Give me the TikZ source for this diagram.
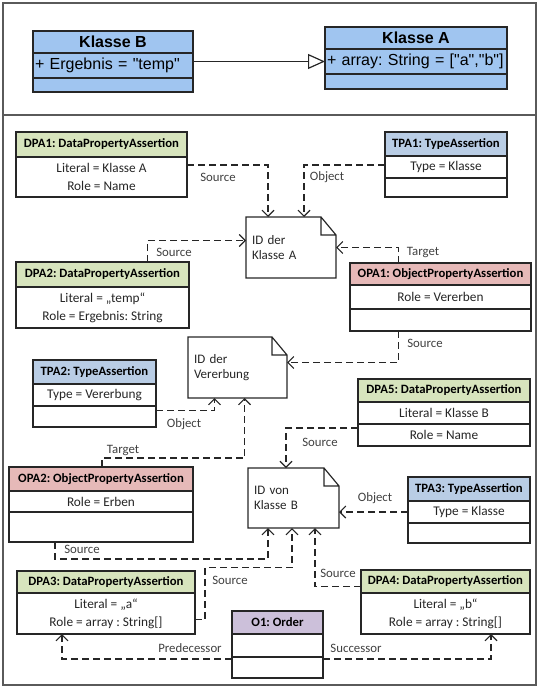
\documentclass[tikz,border=0pt]{standalone}
\usepackage{fontspec}
\setmainfont{Carlito}
\newfontfamily\arialfont{Liberation Sans}
\usepackage{xcolor}
\usetikzlibrary{arrows.meta, positioning}

\definecolor{dpagreen}{RGB}{215,228,189}
\definecolor{tpablue}{RGB}{185,205,229}
\definecolor{opared}{RGB}{230,185,184}
\definecolor{ordlila}{RGB}{204,192,218}
\definecolor{umlblue}{RGB}{160,197,240}
\definecolor{rahmen}{RGB}{90,90,90}
\definecolor{linie}{RGB}{38,38,38}
\definecolor{schrift}{RGB}{64,64,64}

\begin{document}
\frenchspacing
\begin{tikzpicture}[x=1pt, y=-1pt,
    cmp/.style={draw=linie, line width=1.2pt, fill=white, inner sep=0pt, outer sep=0pt, align=center, text=black!85, font=\fontsize{13.3}{18}\selectfont},
    hdr/.style={cmp, fill=#1, text=black, font=\fontsize{12.7}{14}\selectfont\bfseries},
    uml/.style={draw=linie, line width=1.2pt, fill=umlblue, inner sep=0pt, outer sep=0pt, font=\arialfont\fontsize{16}{18}\selectfont},
    note/.style={inner xsep=6pt, inner ysep=0pt, outer sep=0pt, align=left, text=black!85, font=\fontsize{13}{15.5}\selectfont},
    link/.style={draw=linie, line width=1.1pt, dash pattern=on 7pt off 4pt, -{Straight Barb[length=6pt,width=12pt]}},
    gen/.style={draw=linie, line width=1.2pt, -{Triangle[open,length=17pt,width=15pt]}},
    lbl/.style={text=schrift, inner sep=1pt, font=\fontsize{12.8}{14}\selectfont},
]
    \useasboundingbox (0,0) rectangle (539,687);
    \draw[rahmen, line width=1.5pt] (3,3) rectangle (536,685);
    \draw[rahmen, line width=1.5pt] (3,115) -- (536,115);

    % UML-Klassen oben
    \node[uml, font=\arialfont\fontsize{16}{18}\selectfont\bfseries, minimum width=160pt, minimum height=22pt, anchor=north west] (kb) at (33,31) {Klasse B};
    \node[uml, minimum width=160pt, minimum height=25pt, inner xsep=2pt, text width=156pt, align=left, below=0pt of kb] (kbattr) {+ Ergebnis = "temp"};
    \node[uml, minimum width=160pt, minimum height=14pt, below=0pt of kbattr] (kbleer) {};

    \node[uml, font=\arialfont\fontsize{16}{18}\selectfont\bfseries, minimum width=182pt, minimum height=22pt, anchor=north west] (ka) at (325,27) {Klasse A};
    \node[uml, minimum width=182pt, minimum height=25pt, inner xsep=2pt, text width=178pt, align=left, below=0pt of ka] (kaattr) {+ array: String = ["a","b"]};
    \node[uml, minimum width=182pt, minimum height=15pt, below=0pt of kaattr] (kaleer) {};

    \draw[gen] (kbattr.east |- kaattr.west) -- (kaattr.west);

    % Assertions
    \node[hdr=dpagreen, minimum width=171pt, minimum height=25pt, anchor=north west] (dpa1) at (16,132) {DPA1: DataPropertyAssertion};
    \node[cmp, minimum width=171pt, minimum height=40pt, below=0pt of dpa1] (dpa1b) {Literal = Klasse A\\Role = Name};

    \node[hdr=tpablue, minimum width=122pt, minimum height=24pt, anchor=north west] (tpa1) at (385,132) {TPA1: TypeAssertion};
    \node[cmp, minimum width=122pt, minimum height=22pt, below=0pt of tpa1] (tpa1b) {Type = Klasse};
    \node[cmp, minimum width=122pt, minimum height=19pt, below=0pt of tpa1b] (tpa1c) {};

    \node[hdr=dpagreen, minimum width=173pt, minimum height=25pt, anchor=north west] (dpa2) at (16,262) {DPA2: DataPropertyAssertion};
    \node[cmp, minimum width=173pt, minimum height=41pt, below=0pt of dpa2] (dpa2b) {Literal = „temp“\\Role = Ergebnis: String};

    \node[hdr=opared, minimum width=181pt, minimum height=22pt, anchor=north west] (opa1) at (350,263) {OPA1: ObjectPropertyAssertion};
    \node[cmp, minimum width=181pt, minimum height=24pt, below=0pt of opa1] (opa1b) {Role = Vererben};
    \node[cmp, minimum width=181pt, minimum height=22pt, below=0pt of opa1b] (opa1c) {};

    \node[hdr=tpablue, minimum width=123pt, minimum height=24pt, anchor=north west] (tpa2) at (33,360) {TPA2: TypeAssertion};
    \node[cmp, minimum width=123pt, minimum height=22pt, below=0pt of tpa2] (tpa2b) {Type = Vererbung};
    \node[cmp, minimum width=123pt, minimum height=21pt, below=0pt of tpa2b] (tpa2c) {};

    \node[hdr=dpagreen, minimum width=172pt, minimum height=23pt, anchor=north west] (dpa5) at (358,379) {DPA5: DataPropertyAssertion};
    \node[cmp, minimum width=172pt, minimum height=22pt, below=0pt of dpa5] (dpa5b) {Literal = Klasse B};
    \node[cmp, minimum width=172pt, minimum height=22pt, below=0pt of dpa5b] (dpa5c) {Role = Name};

    \node[hdr=opared, minimum width=184pt, minimum height=24pt, anchor=north west] (opa2) at (9,467) {OPA2: ObjectPropertyAssertion};
    \node[cmp, minimum width=184pt, minimum height=21pt, below=0pt of opa2] (opa2b) {Role = Erben};
    \node[cmp, minimum width=184pt, minimum height=30pt, below=0pt of opa2b] (opa2c) {};

    \node[hdr=tpablue, minimum width=122pt, minimum height=24pt, anchor=north west] (tpa3) at (408,477) {TPA3: TypeAssertion};
    \node[cmp, minimum width=122pt, minimum height=22pt, below=0pt of tpa3] (tpa3b) {Type = Klasse};
    \node[cmp, minimum width=122pt, minimum height=20pt, below=0pt of tpa3b] (tpa3c) {};

    \node[hdr=dpagreen, minimum width=178pt, minimum height=22pt, anchor=north west] (dpa3) at (17,571) {DPA3: DataPropertyAssertion};
    \node[cmp, minimum width=178pt, minimum height=41pt, below=0pt of dpa3] (dpa3b) {Literal = „a“\\Role = array : String[]};

    \node[hdr=dpagreen, minimum width=169pt, minimum height=23pt, anchor=north west] (dpa4) at (361,570) {DPA4: DataPropertyAssertion};
    \node[cmp, minimum width=169pt, minimum height=41pt, below=0pt of dpa4] (dpa4b) {Literal = „b“\\Role = array : String[]};

    \node[hdr=ordlila, minimum width=91pt, minimum height=23pt, anchor=north west] (o1) at (232,611) {O1: Order};
    \node[cmp, minimum width=91pt, minimum height=23pt, below=0pt of o1] (o1b) {};
    \node[cmp, minimum width=91pt, minimum height=21pt, below=0pt of o1b] (o1c) {};

    % Individuen
    \node[note, text width=78pt, minimum height=61pt, anchor=north west] (ida) at (246,217) {ID der\\Klasse A};
    \node[note, text width=87pt, minimum height=61pt, anchor=north west] (idv) at (188,337) {ID der\\Vererbung};
    \node[note, text width=79pt, minimum height=60pt, anchor=north west] (idb) at (248,468) {ID von\\Klasse B};
    \foreach \n in {ida,idv,idb}
        \draw[linie, line width=1.2pt] (\n.north west) -- ([xshift=-15pt]\n.north east) -- ([yshift=-18pt]\n.north east) -- (\n.south east) -- (\n.south west) -- cycle
            ([xshift=-15pt]\n.north east) |- ([yshift=-18pt]\n.north east);

    % Verbindungen
    \draw[link] ([yshift=12pt]dpa1b.east) -| ([xshift=22pt]ida.north west);
    \draw[link] ([yshift=2pt]tpa1b.west) -| ([xshift=58pt]ida.north west);
    \draw[link] ([xshift=45pt]dpa2.north) |- ([yshift=7pt]ida.west);
    \draw[link] ([xshift=-42pt]opa1.north) |- (ida.east);
    \draw[link] ([xshift=-42pt]opa1c.south) |- ([yshift=5pt]idv.east);
    \draw[link] ([yshift=6pt]tpa2c.east) -| ([xshift=-23pt]idv.south);
    \draw[link] ([xshift=1pt]opa2.north) -- ++(0,-9) -| ([xshift=7pt]idv.south);
    \draw[link] ([yshift=7pt]dpa5c.west) -| ([xshift=38pt]idb.north west);
    \draw[link] (tpa3b.west) -- (tpa3b.west -| idb.east);
    \draw[link] ([xshift=-46pt]opa2c.south) -- ++(0,17) -| ([xshift=20pt]idb.south west);
    \draw[link] ([yshift=-6pt]dpa3b.east) -- ++(10,0) -- ++(0,-52) -| ([xshift=44pt]idb.south west);
    \draw[link] ([yshift=-5pt]dpa4.west) -| ([xshift=67pt]idb.south west);
    \draw[link] ([yshift=-2pt]o1b.south west) -| ([xshift=45pt]dpa3b.south west);
    \draw[link] ([yshift=-2pt]o1b.south east) -| ([xshift=130pt]dpa4b.south west);

    \node[lbl] (l1) at (218,177) {Source};
    \node[lbl] (l2) at (327,177) {Object};
    \node[lbl] (l3) at (174,252) {Source};
    \node[lbl] (l4) at (423,252) {Target};
    \node[lbl] (l5) at (425,343) {Source};
    \node[lbl] (l6) at (184,424) {Object};
    \node[lbl] (l7) at (123,450) {Target};
    \node[lbl] (l8) at (320,442) {Source};
    \node[lbl] (l9) at (375,498) {Object};
    \node[lbl] (l10) at (82,549) {Source};
    \node[lbl] (l11) at (230,580) {Source};
    \node[lbl] (l12) at (338,573) {Source};
    \node[lbl] (l13) at (190,648) {Predecessor};
    \node[lbl] (l14) at (356,648) {Successor};
\end{tikzpicture}
\end{document}
